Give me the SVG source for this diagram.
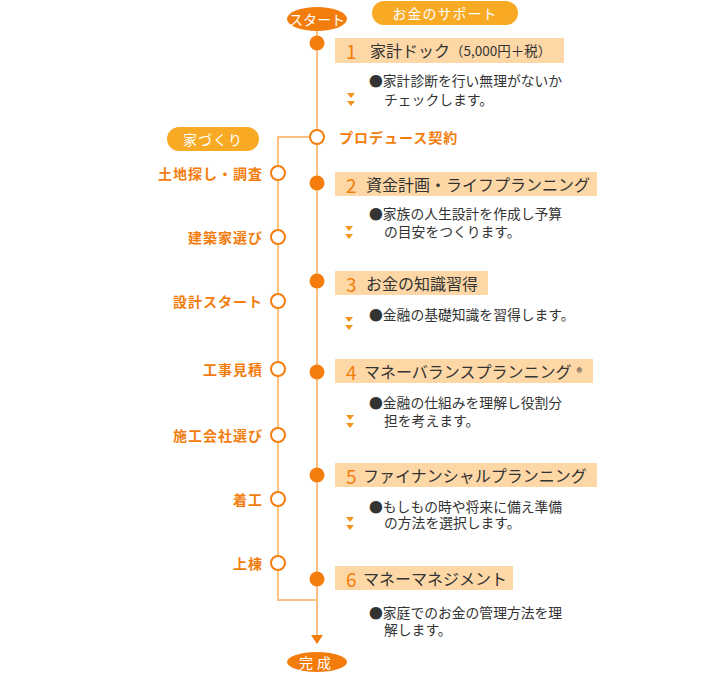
<svg xmlns="http://www.w3.org/2000/svg" width="710" height="674" viewBox="0 0 710 674">
<style>
text{font-family:"Noto Sans CJK JP","Noto Sans",sans-serif;dominant-baseline:central}
.line{stroke:#fcc081;stroke-width:2;fill:none}
.pill{fill:#f8aa25}
.pilltxt{fill:#fff;font-size:14px;text-anchor:middle}
.oval{fill:#f27d0c}
.dot{fill:#f57d0e}
.hollow{fill:#fff;stroke:#f57d0e;stroke-width:2}
.box{fill:#fdd7a6}
.num{fill:#f27d0c;font-size:19px}
.title{fill:#333;font-size:16px}
.desc{fill:#333;font-size:13.8px}
.lbl{fill:#f27d0c;font-size:14px;text-anchor:end;letter-spacing:1px;font-weight:bold}
.chev{fill:#f6921e}
</style>
<defs>
<g id="chev"><polygon class="chev" points="-4,0 4,0 0,5"/><polygon class="chev" points="-4,8 4,8 0,13"/></g>
</defs>
<g id="connectors">
<line class="line" x1="317" y1="30" x2="317" y2="636"/>
<polyline class="line" points="310,137 278,137 278,600 317,600"/>
<polygon points="311,635 323,635 317,644" fill="#f27d0c"/>
</g>
<g id="start"><ellipse class="oval" cx="317" cy="19" rx="30" ry="12"/><text class="pilltxt" x="317" y="19">スタート</text></g>
<g id="support"><rect class="pill" x="372" y="1" width="146" height="24" rx="12"/><text class="pilltxt" x="445" y="13" style="letter-spacing:1px">お金のサポート</text></g>
<g id="house"><rect class="pill" x="167" y="127" width="92" height="24" rx="12"/><text class="pilltxt" x="213" y="139" style="letter-spacing:1px">家づくり</text></g>
<g id="finish"><ellipse class="oval" cx="317" cy="662" rx="30" ry="10"/><text class="pilltxt" x="317" y="662" style="letter-spacing:4px">完成</text></g>
<g id="produce"><circle class="hollow" cx="317" cy="137" r="7"/><text x="339" y="137" style="fill:#f27d0c;font-size:14px;letter-spacing:1px;font-weight:bold">プロデュース契約</text></g>
<g id="step1">
<circle class="dot" cx="317" cy="43" r="7.5"/>
<rect class="box" x="335" y="38" width="229" height="25"/>
<text class="num" x="346" y="50">1</text>
<text class="title" x="370" y="50">家計ドック<tspan style="font-size:13.5px">（5,000円＋税）</tspan></text>
<text class="desc"><tspan x="369" y="80">●家計診断を行い無理がないか</tspan><tspan x="384" y="99">チェックします。</tspan></text>
<use href="#chev" x="351" y="93"/>
</g>
<g id="step2">
<circle class="dot" cx="317" cy="183" r="7.5"/>
<rect class="box" x="335" y="172" width="262" height="24"/>
<text class="num" x="346" y="184">2</text>
<text class="title" x="366" y="184">資金計画・ライフプランニング</text>
<text class="desc"><tspan x="369" y="213">●家族の人生設計を作成し予算</tspan><tspan x="384" y="231">の目安をつくります。</tspan></text>
<use href="#chev" x="349" y="226"/>
</g>
<g id="step3">
<circle class="dot" cx="317" cy="281" r="7.5"/>
<rect class="box" x="335" y="271" width="153" height="24"/>
<text class="num" x="346" y="283">3</text>
<text class="title" x="366" y="283">お金の知識習得</text>
<text class="desc" x="369" y="314">●金融の基礎知識を習得します。</text>
<use href="#chev" x="349" y="317"/>
</g>
<g id="step4">
<circle class="dot" cx="317" cy="372" r="7.5"/>
<rect class="box" x="335" y="359" width="258" height="24"/>
<text class="num" x="346" y="371">4</text>
<text class="title" x="364" y="371">マネーバランスプランニング<tspan dx="5" style="font-size:12px">®</tspan></text>
<text class="desc"><tspan x="369" y="402">●金融の仕組みを理解し役割分</tspan><tspan x="384" y="420">担を考えます。</tspan></text>
<use href="#chev" x="350" y="415"/>
</g>
<g id="step5">
<circle class="dot" cx="317" cy="475" r="7.5"/>
<rect class="box" x="335" y="463" width="262" height="24"/>
<text class="num" x="346" y="475">5</text>
<text class="title" x="363" y="475">ファイナンシャルプランニング</text>
<text class="desc"><tspan x="369" y="506">●もしもの時や将来に備え準備</tspan><tspan x="384" y="522">の方法を選択します。</tspan></text>
<use href="#chev" x="350" y="517"/>
</g>
<g id="step6">
<circle class="dot" cx="317" cy="579" r="7.5"/>
<rect class="box" x="335" y="566" width="178" height="24"/>
<text class="num" x="346" y="578">6</text>
<text class="title" x="363" y="578">マネーマネジメント</text>
<text class="desc"><tspan x="369" y="612">●家庭でのお金の管理方法を理</tspan><tspan x="384" y="629">解します。</tspan></text>
</g>
<g id="h1"><circle class="hollow" cx="278" cy="173" r="7"/><text class="lbl" x="263" y="173">土地探し・調査</text></g>
<g id="h2"><circle class="hollow" cx="278" cy="237" r="7"/><text class="lbl" x="263" y="237">建築家選び</text></g>
<g id="h3"><circle class="hollow" cx="278" cy="301" r="7"/><text class="lbl" x="263" y="301">設計スタート</text></g>
<g id="h4"><circle class="hollow" cx="278" cy="369" r="7"/><text class="lbl" x="263" y="369">工事見積</text></g>
<g id="h5"><circle class="hollow" cx="278" cy="435" r="7"/><text class="lbl" x="263" y="435">施工会社選び</text></g>
<g id="h6"><circle class="hollow" cx="278" cy="499" r="7"/><text class="lbl" x="263" y="499">着工</text></g>
<g id="h7"><circle class="hollow" cx="278" cy="563" r="7"/><text class="lbl" x="263" y="563">上棟</text></g>
</svg>
